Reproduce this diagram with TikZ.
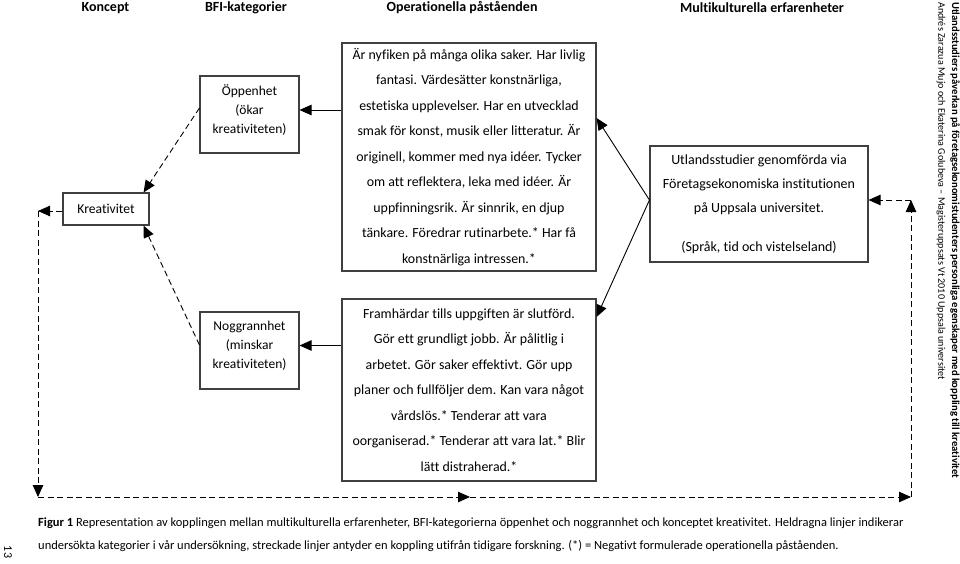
\documentclass[tikz,border=0pt]{standalone}
\usepackage{fontspec}
\setmainfont{Carlito}[Ligatures=NoCommon]
\usetikzlibrary{arrows.meta,calc}
\begin{document}
\begin{tikzpicture}[x=1pt,y=-1pt,
  box/.style={draw=black!75, line width=1.1pt, align=center, inner sep=0pt},
  stext/.style={font=\fontsize{13.9}{25.5}\selectfont},
  btext/.style={align=center, inner sep=0pt, font=\fontsize{13.5}{19}\selectfont},
  sarr/.style={line width=0.9pt, -{Triangle[length=12pt,width=10.5pt]}},
  darr/.style={line width=0.9pt, dash pattern=on 6pt off 3.5pt, -{Triangle[length=12pt,width=10.5pt]}},
  head/.style={font=\fontsize{14}{16}\selectfont\bfseries, inner sep=0pt}]
\useasboundingbox (0,0) rectangle (960,564);

% headers
\node[head] (h1) at (105.5,8) {Koncept};
\node[head] (h2) at (246,8) {BFI-kategorier};
\node[head] (h3) at (462,8) {Operationella påståenden};
\node[head] (h4) at (762,8) {Multikulturella erfarenheter};

% boxes
\node[box, minimum width=86pt, minimum height=32pt, font=\fontsize{13.6}{15}\selectfont] (krea) at (106,209) {Kreativitet};

\node[box, minimum width=99pt, minimum height=77pt] (opp) at (249.5,114.5) {};
\node[btext] (opptxt) at (249.5,110) {Öppenhet\\(ökar\\kreativiteten)};

\node[box, minimum width=99pt, minimum height=77pt] (nog) at (249.5,350.5) {};
\node[btext] (nogtxt) at (249.5,345.5) {Noggrannhet\\(minskar\\kreativiteten)};

\node[box, stext, minimum width=254pt, minimum height=228pt] (top) at (469,157)
{Är nyfiken på många olika saker. Har livlig\\
fantasi. Värdesätter konstnärliga,\\
estetiska upplevelser. Har en utvecklad\\
smak för konst, musik eller litteratur. Är\\
originell, kommer med nya idéer. Tycker\\
om att reflektera, leka med idéer. Är\\
uppfinningsrik. Är sinnrik, en djup\\
tänkare. Föredrar rutinarbete.* Har få\\
konstnärliga intressen.*};

\node[box, stext, minimum width=254pt, minimum height=182pt] (bot) at (469,390)
{Framhärdar tills uppgiften är slutförd.\\
Gör ett grundligt jobb. Är pålitlig i\\
arbetet. Gör saker effektivt. Gör upp\\
planer och fullföljer dem. Kan vara något\\
vårdslös.* Tenderar att vara\\
oorganiserad.* Tenderar att vara lat.* Blir\\
lätt distraherad.*};

\node[box, font=\fontsize{14}{24}\selectfont, minimum width=218pt, minimum height=116pt] (multi) at (759,204)
{Utlandsstudier genomförda via\\
Företagsekonomiska institutionen\\
på Uppsala universitet.\\[15pt]
(Språk, tid och vistelseland)};

% helper coordinates
\coordinate (y118) at (0,118);
\coordinate (y317) at (0,317);
\coordinate (y200) at (0,200);
\coordinate (y108) at (0,108);
\coordinate (y345) at (0,345);

% solid arrows
\draw[sarr] (top.west |- opptxt) -- (opp.east |- opptxt);
\draw[sarr] (bot.west |- nogtxt) -- (nog.east |- nogtxt);
\draw[sarr] (multi.west |- y200) -- (top.east |- y118);
\draw[sarr] (multi.west |- y200) -- (bot.east |- y317);

% dashed arrows
\draw[darr] (opp.west |- y108) -- ($(krea.north east)+(-6,0)$);
\draw[darr] (nog.west |- y345) -- ($(krea.south east)+(-6,0)$);

\coordinate (c1) at (38,211);
\coordinate (c2) at (38,497);
\coordinate (c3) at (470,497);
\coordinate (c4) at (911,497);
\coordinate (c5) at (911,200);
\draw[darr] (krea.west |- c1) -- (c1);
\draw[darr] (c1) -- (c2);
\draw[darr] (c2) -- (c3);
\draw[darr] (c3) -- (c4);
\draw[darr] (c4) -- (c5);
\draw[darr] (c5) -- (multi.east |- c5);

% caption
\node[anchor=base west, inner sep=0pt, font=\fontsize{12.5}{14}\selectfont] (cap1) at (38,526)
{\textbf{Figur 1} Representation av kopplingen mellan multikulturella erfarenheter, BFI-kategorierna öppenhet och noggrannhet och konceptet kreativitet. Heldragna linjer indikerar};
\node[anchor=base west, inner sep=0pt, font=\fontsize{12.5}{14}\selectfont] (cap2) at (38,549)
{undersökta kategorier i vår undersökning, streckade linjer antyder en koppling utifrån tidigare forskning. (*) = Negativt formulerade operationella påståenden.};

% side texts
\node[rotate=-90, anchor=west, inner sep=0pt] (side1) at (955,2)
{\resizebox{476pt}{!}{\bfseries Utlandsstudiers påverkan på företagsekonomistudenters personliga egenskaper med koppling till kreativitet}};
\node[rotate=-90, anchor=west, inner sep=0pt] (side2) at (941,2)
{\resizebox{378pt}{!}{Andrés Zarazua Mujo och Ekaterina Golubeva – Magisteruppsats Vt 2010 Uppsala universitet}};

\node[rotate=-90, inner sep=0pt, font=\fontsize{12}{14}\selectfont] (pg) at (8,552) {13};
\end{tikzpicture}
\end{document}
